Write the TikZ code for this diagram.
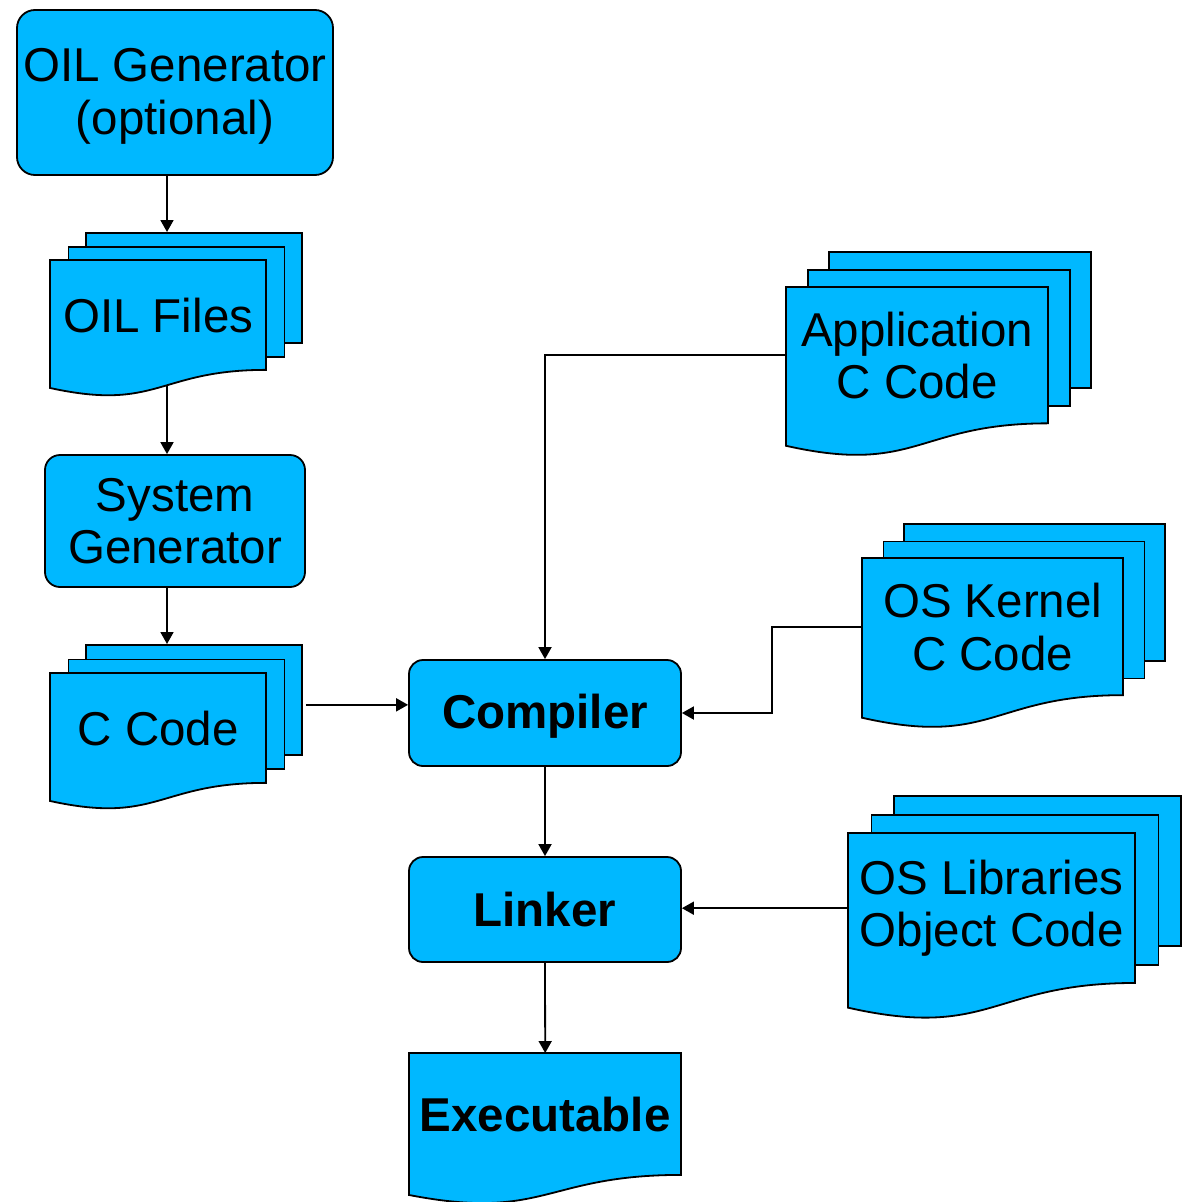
\documentclass[tikz,border=0pt]{standalone}
\usepackage{fontspec}
\setmainfont{Liberation Sans}
\usetikzlibrary{arrows.meta,calc,backgrounds}
\definecolor{boxblue}{RGB}{0,184,255}

\tikzset{
  base/.style={draw=black, line width=1.8pt, fill=boxblue},
  procbox/.style={base, rounded corners=#1, align=center, inner sep=0pt,
    font=\fontsize{47.5}{52.5}\selectfont},
  sheet/.style={base, inner sep=0pt},
  doctext/.style={inner sep=0pt, align=center, font=\fontsize{47.5}{52.5}\selectfont},
  arr/.style={line width=1.8pt, -{Triangle[length=12pt,width=13pt]}}
}

% move text down without changing the box size used for centring
\newcommand{\Lower}[2]{\raisebox{-#1}[\height][\depth]{#2}}

% Single document shape with wavy bottom: name, x, y (top-left), width, height, text
\newcommand{\DocShape}[6]{%
  \draw[base] (#2,#3) -- ({#2+#4},#3) -- ({#2+#4},{#3+0.802*#5})
    .. controls ({#2+0.5*#4},{#3+0.802*#5}) and ({#2+0.5*#4},{#3+1.1075*#5})
    .. (#2,{#3+0.934*#5}) -- cycle;
  \node[doctext, minimum width=#4pt, minimum height=0.802*#5pt, anchor=north west]
    (#1) at (#2,#3) {#6};
}

% Stack of three documents: name, x, y, width, height, dx, dy, text
\newcommand{\DocStack}[8]{%
  \node[sheet, minimum width=#4pt, minimum height=0.802*#5pt, anchor=north west]
    (#1-back) at ({#2+2*#6},{#3-2*#7}) {};
  \node[sheet, minimum width=#4pt, minimum height=0.802*#5pt, anchor=north west]
    (#1-mid) at ({#2+#6},{#3-#7}) {};
  \DocShape{#1}{#2}{#3}{#4}{#5}{#8}
}

\begin{document}
\begin{tikzpicture}[x=1pt,y=-1pt]
\useasboundingbox (0,0) rectangle (1189,1202);

% processing steps
\node[procbox=18pt, minimum width=316pt, minimum height=165pt] (oilgen) at (175,92.5)
  {\Lower{5pt}{\begin{tabular}{@{}c@{}}OIL Generator\\(optional)\end{tabular}}};
\node[procbox=15pt, minimum width=260pt, minimum height=132pt] (sysgen) at (175,521)
  {System\\Generator};
\node[procbox=14pt, minimum width=272pt, minimum height=106pt, font=\fontsize{47.5}{52.5}\selectfont\bfseries]
  (compiler) at (545,713) {\Lower{3pt}{Compiler}};
\node[procbox=14pt, minimum width=272pt, minimum height=105pt, font=\fontsize{47.5}{52.5}\selectfont\bfseries]
  (linker) at (545,909.5) {Linker};

% documents
\DocStack{oilfiles}{50}{260}{216}{137}{17.5}{14}{OIL Files}
\DocStack{ccode}{50}{673}{216}{137}{17.5}{14.5}{C Code}
\DocStack{app}{786}{287}{262}{170}{21}{18}{Application\\C Code}
\DocStack{kernel}{862}{558}{261}{171}{20.5}{17.5}{OS Kernel\\C Code}
\DocStack{libs}{848}{833}{287}{187}{22.5}{19}{OS Libraries\\Object Code}
\DocShape{exec}{409}{1053}{272}{152}{\bfseries Executable}

% connector end points off the box centres
\coordinate (genout) at ($(oilgen.south)+(-8,0)$);
\coordinate (sysin)  at ($(sysgen.north)+(-8,0)$);
\coordinate (sysout) at ($(sysgen.south)+(-8,0)$);
\coordinate (cout)   at ($(ccode-back.east)+(3,5)$);

% connectors
\begin{pgfonlayer}{background}
\draw[arr] (genout) -- (genout |- oilfiles-back.north);
\draw[arr] (sysin |- oilfiles.south) -- (sysin);
\draw[arr] (sysout) -- (sysout |- ccode-back.north);
\draw[arr] (cout) -- (cout -| compiler.west);
\draw[arr] (app.west) -| (compiler.north);
\draw[arr] (kernel.west) -- ++(-90,0) |- (compiler.east);
\draw[arr] (libs.west) -- (libs.west -| linker.east);
\draw[arr] (compiler.south) -- (linker.north);
\draw[arr] (linker.south) -- (exec.north);
\end{pgfonlayer}
\end{tikzpicture}
\end{document}
